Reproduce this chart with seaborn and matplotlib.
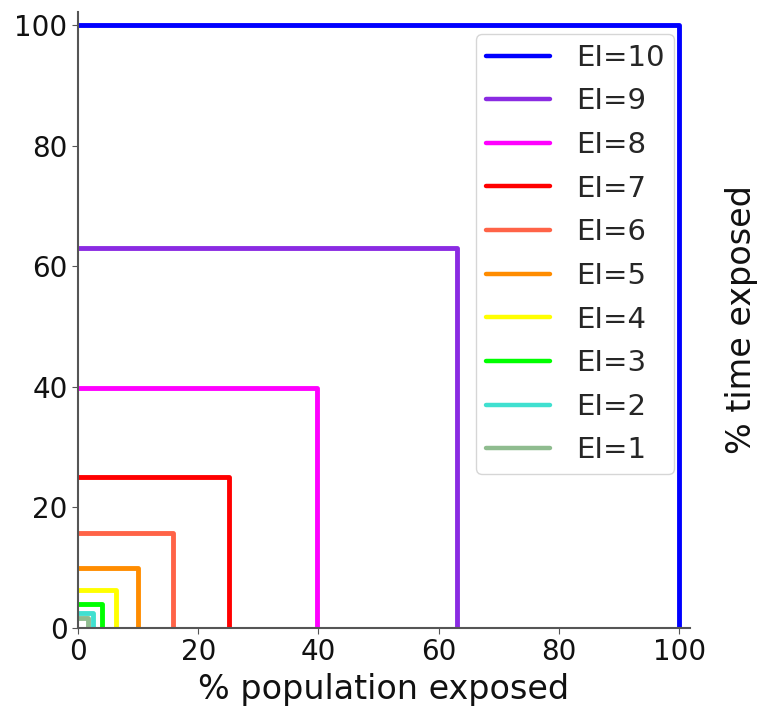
import numpy as np
import pandas as pd
import matplotlib
matplotlib.use("Agg")
import matplotlib.pyplot as plt
import seaborn as sns

# Lado de cada cuadrado (% población = % tiempo) para cada EI
ei_levels = [10, 9, 8, 7, 6, 5, 4, 3, 2, 1]
side = [100, 63.1, 39.8, 25.1, 15.8, 10.0, 6.3, 4.0, 2.5, 1.6]
colores = ["blue", "blueviolet", "magenta", "red", "tomato",
           "darkorange", "yellow", "lime", "turquoise", "darkseagreen"]

sns.set_style("white")
plt.rcParams['font.family'] = ['DejaVu Sans']

fig, ax = plt.subplots(figsize=(7.6, 7.11), dpi=100)

for ei, s, c in zip(ei_levels, side, colores):
    df = pd.DataFrame({"x": [0, s, s], "y": [s, s, 0]})
    sns.lineplot(data=df, x="x", y="y", sort=False, estimator=None,
                 errorbar=None, color=c, lw=3.5, label=f"EI={ei}", ax=ax)

ax.set_xlim(0, 101.8)
ax.set_ylim(0, 102.2)
ax.set_xticks([0, 20, 40, 60, 80, 100])
ax.set_yticks([0, 20, 40, 60, 80, 100])
ax.tick_params(labelsize=20, length=4, color="#555555", left=True, bottom=True,
               labelcolor="#111111")
ax.set_xlabel("% population exposed", fontsize=24, labelpad=5, color="#111111")
ax.set_ylabel("% time exposed", fontsize=24, labelpad=25, color="#111111")
ax.yaxis.set_label_position("right")
for side_name in ["top", "right"]:
    ax.spines[side_name].set_visible(False)
for side_name in ["left", "bottom"]:
    ax.spines[side_name].set_color("#555555")
    ax.spines[side_name].set_linewidth(1.5)

leg = ax.legend(loc="upper right", fontsize=21, handlelength=2.2,
                labelspacing=0.535, borderpad=0.33, handletextpad=0.9,
                borderaxespad=0, bbox_to_anchor=(0.974, 0.964))
for line in leg.get_lines():
    line.set_linewidth(3.2)

plt.subplots_adjust(left=0.1026, right=0.908, top=0.983, bottom=0.1167)
plt.savefig("out.png", dpi=100)
plt.close()
